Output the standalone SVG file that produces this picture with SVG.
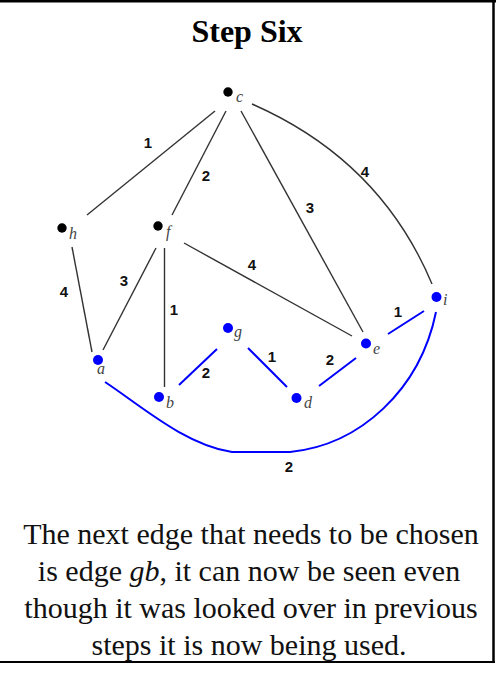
<svg xmlns="http://www.w3.org/2000/svg" width="497" height="673" viewBox="0 0 497 673">
<style>
.k{stroke:#333;stroke-width:1.4;fill:none}
.bl{stroke:#0000ff;stroke-width:2;fill:none}
.w{font-family:"Liberation Sans",Arial,sans-serif;font-weight:bold;font-size:15px;fill:#111;text-anchor:middle}
.nl{font-family:"Liberation Serif","Times New Roman",serif;font-style:italic;font-size:16px;fill:#444}
.dk{fill:#000}
.db{fill:#0000ff}
.ttl{font-family:"Liberation Serif","Times New Roman",serif;font-weight:bold;font-size:32px;fill:#000;text-anchor:middle}
.cap{font-family:"Liberation Serif","Times New Roman",serif;font-size:30px;fill:#111;text-anchor:middle}
</style>
<rect width="497" height="673" fill="#fff"/>
<g id="frame" stroke="#000" fill="none">
<line x1="0" y1="1" x2="496" y2="1" stroke-width="3"/>
<line x1="493.5" y1="0" x2="493.5" y2="663" stroke-width="2.5"/>
<line x1="0" y1="662" x2="495" y2="662" stroke-width="2"/>
</g>
<text id="title" class="ttl" x="247" y="42">Step Six</text>
<g id="connectors">
<line class="k" x1="215" y1="111" x2="87" y2="215"/>
<line class="k" x1="226" y1="111" x2="172" y2="215"/>
<line class="k" x1="241" y1="111" x2="363" y2="332"/>
<path class="k" d="M252,104 Q380,160 432,284"/>
<line class="k" x1="184" y1="243" x2="352" y2="336"/>
<line class="k" x1="156" y1="248" x2="103" y2="350"/>
<line class="k" x1="164.5" y1="248" x2="164.5" y2="387"/>
<line class="k" x1="72" y1="247" x2="92" y2="352"/>
<line class="bl" x1="217" y1="349" x2="179" y2="385"/>
<line class="bl" x1="248" y1="348" x2="287" y2="387"/>
<line class="bl" x1="319" y1="386" x2="356" y2="358"/>
<line class="bl" x1="388" y1="334" x2="424" y2="311"/>
<path class="bl" d="M105,382 C140,405 185,445 232,452 L290,452 C360,445 420,390 436,312"/>
<text class="w" x="148" y="148">1</text>
<text class="w" x="206" y="181">2</text>
<text class="w" x="310" y="213">3</text>
<text class="w" x="365" y="177">4</text>
<text class="w" x="252" y="270">4</text>
<text class="w" x="64" y="297">4</text>
<text class="w" x="124" y="286">3</text>
<text class="w" x="174" y="315">1</text>
<text class="w" x="206" y="378">2</text>
<text class="w" x="272" y="362">1</text>
<text class="w" x="330" y="365">2</text>
<text class="w" x="398" y="317">1</text>
<text class="w" x="289" y="472">2</text>
</g>
<g id="node-c"><circle class="dk" cx="228" cy="92" r="4.7"/><text class="nl" x="236" y="102">c</text></g>
<g id="node-h"><circle class="dk" cx="62" cy="228" r="4.7"/><text class="nl" x="69" y="239">h</text></g>
<g id="node-f"><circle class="dk" cx="158" cy="226" r="4.7"/><text class="nl" x="166" y="237">f</text></g>
<g id="node-a"><circle class="db" cx="98" cy="360" r="5"/><text class="nl" x="97" y="374">a</text></g>
<g id="node-b"><circle class="db" cx="159" cy="397" r="5"/><text class="nl" x="166" y="408">b</text></g>
<g id="node-g"><circle class="db" cx="228" cy="328" r="5"/><text class="nl" x="234" y="337">g</text></g>
<g id="node-d"><circle class="db" cx="296.5" cy="398" r="5"/><text class="nl" x="304" y="408">d</text></g>
<g id="node-e"><circle class="db" cx="366" cy="343.5" r="5"/><text class="nl" x="373" y="354">e</text></g>
<g id="node-i"><circle class="db" cx="436.5" cy="297" r="5"/><text class="nl" x="443" y="305">i</text></g>
<g id="caption">
<text class="cap" x="251" y="544">The next edge that needs to be chosen</text>
<text class="cap" x="249" y="581">is edge <tspan font-style="italic">gb</tspan>, it can now be seen even</text>
<text class="cap" x="251" y="618">though it was looked over in previous</text>
<text class="cap" x="249" y="655">steps it is now being used.</text>
</g>
</svg>
